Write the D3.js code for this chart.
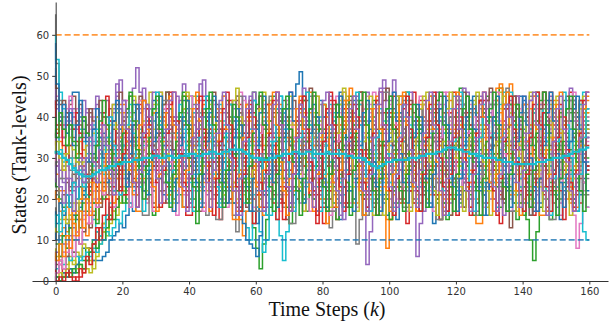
<!DOCTYPE html>
<html>
<head>
<meta charset="utf-8">
<script src="https://cdn.jsdelivr.net/npm/d3@7"></script>
<style>
  body { margin: 0; background: #fff; }
  .tick text { font-family: 'DejaVu Sans', sans-serif; font-size: 10px; fill: #333; }
  .tick line, .domain { stroke: #333; }
</style>
</head>
<body>
<svg id="chart" width="616" height="329"></svg>
<script>
// tank levels per run, one value per time step k = 0..160
const run0 = [40,44,40,38,41,44,46,46,40,37, 35,38,33,30,34,36,31,28,33,35,
  30,27,31,34,38,35,32,29,26,30, 33,36,39,35,31,28,25,29,32,27,
  24,28,31,35,33,30,26,22,25,29, 33,37,34,30,27,31,35,38,34,29,
  25,22,26,30,33,37,40,36,32,35, 38,42,45,48,51,44,39,35,31,28,
  32,36,33,29,26,30,34,37,33,28, 25,29,32,36,39,35,31,27,24,28,
  31,35,38,34,30,26,23,27,31,34, 37,40,36,32,29,33,30,26,29,33,
  36,33,29,25,28,32,35,39,36,31, 27,24,28,31,35,38,34,30,33,29,
  26,30,34,37,33,29,25,28,32,36, 39,35,31,27,30,34,37,33,29,32, 35]
const run1 = [12,10,11,13,12,15,17,16,19,21, 20,23,25,22,26,28,24,27,31,29,
  33,36,32,28,31,27,24,29,34,38, 41,37,33,30,26,22,27,31,35,32,
  28,25,30,36,40,43,39,34,31,27, 23,19,24,28,33,30,26,31,36,41,
  37,33,28,24,21,26,30,34,38,35, 31,27,32,36,33,28,25,21,18,23,
  28,33,37,42,38,34,30,26,31,35, 40,44,39,35,31,28,24,20,25,29,
  33,37,41,38,33,29,26,30,34,31, 27,24,20,23,28,32,37,41,45,40,
  36,32,28,25,29,33,30,26,22,27, 31,35,40,44,48,42,37,33,30,26,
  23,27,31,35,39,36,32,28,25,30, 34,38,42,39,35,31,27,24,28,32, 36]
const run2 = [2,1,0,2,1,3,2,4,6,5, 8,7,10,12,11,14,16,15,18,20,
  19,22,25,23,27,30,28,32,35,31, 28,25,29,33,37,34,30,27,23,26,
  30,34,38,42,39,35,31,28,24,21, 25,29,26,22,19,23,27,24,20,17,
  13,8,3,9,15,20,24,28,32,36, 40,37,33,29,26,30,34,38,35,31,
  27,24,28,32,36,40,43,39,35,32, 28,25,22,26,30,34,31,27,23,20,
  24,28,32,36,33,29,25,22,26,30, 34,38,42,45,41,37,33,29,26,30,
  27,23,19,22,26,30,34,38,35,31, 28,32,36,40,47,43,38,34,30,27,
  23,19,15,10,5,12,18,22,26,30, 33,37,41,38,34,30,26,29,33,37, 40]
const run3 = [30,28,31,27,25,22,24,26,23,21, 24,27,25,22,26,29,27,30,33,29,
  26,30,34,31,27,24,28,32,36,33, 29,26,22,19,23,27,31,35,39,42,
  38,34,30,27,31,35,32,28,25,29, 33,37,41,44,40,36,32,29,26,23,
  20,17,21,25,29,33,30,26,23,27, 31,35,39,36,32,28,24,21,25,29,
  33,30,26,22,18,15,19,23,27,31, 35,39,43,40,36,32,28,25,29,33,
  30,26,23,27,31,35,39,43,46,42, 38,34,30,27,23,20,24,28,32,36,
  33,29,26,30,34,38,42,39,35,31, 27,24,20,17,21,25,29,33,37,34,
  30,26,23,27,31,35,39,43,40,36, 32,28,25,29,33,30,26,22,19,24, 28]
const run4 = [45,43,40,37,41,39,42,38,35,39, 42,40,37,34,38,41,44,40,43,46,
  49,44,41,45,47,52,46,42,38,35, 31,34,38,35,31,27,24,28,32,36,
  39,35,31,28,32,36,33,29,25,22, 26,30,34,38,42,39,35,31,27,24,
  28,32,29,25,21,24,28,32,36,40, 37,33,29,26,30,34,38,42,45,41,
  37,33,29,26,22,19,23,27,31,35, 32,28,24,16,4,12,20,26,31,36,
  40,44,49,45,41,37,33,30,26,22, 26,30,34,38,35,31,28,24,27,31,
  35,39,43,40,36,32,28,25,29,33, 37,41,38,34,30,27,23,20,24,28,
  32,36,40,44,41,37,33,29,26,30, 34,38,35,31,27,24,28,32,36,39, 35]
const run5 = [20,22,19,21,24,23,26,25,28,27, 25,28,31,29,33,30,27,31,34,37,
  34,30,27,31,35,39,36,32,29,26, 30,34,38,41,37,33,30,27,23,26,
  30,34,31,27,24,28,32,36,40,43, 39,35,31,28,32,29,25,22,18,22,
  26,30,34,38,35,31,27,24,28,32, 36,40,44,40,36,32,29,25,22,26,
  30,34,38,35,31,28,32,36,40,37, 33,29,26,22,25,29,33,37,41,38,
  34,30,27,23,19,22,26,30,34,38, 42,39,35,31,27,24,28,32,36,33,
  29,26,22,25,29,33,37,41,44,40, 36,32,28,25,29,33,37,41,45,42,
  38,34,30,26,23,27,31,35,32,28, 24,21,25,29,33,37,41,38,34,30, 27]
const run6 = [50,45,41,43,40,37,40,42,39,36, 33,37,40,36,32,29,33,36,39,35,
  31,28,32,35,39,42,38,34,31,27, 24,28,32,36,33,29,26,30,34,38,
  41,37,33,30,26,23,27,31,35,39, 36,32,28,25,22,26,30,34,38,42,
  38,34,31,27,24,20,24,28,32,29, 25,22,26,30,34,38,41,37,33,29,
  26,30,34,38,42,45,41,37,33,30, 26,23,27,31,35,32,28,24,21,25,
  29,33,37,41,38,34,30,27,23,26, 30,34,38,42,39,35,31,28,24,21,
  25,29,33,37,34,30,26,23,27,31, 35,39,43,40,36,32,28,25,29,33,
  37,34,30,26,23,19,23,27,31,35, 39,36,32,28,24,20,16,8,14,22, 28]
const run7 = [65,53,44,40,36,33,30,33,36,32, 29,26,30,33,37,34,30,27,24,28,
  32,36,40,37,33,29,26,22,25,29, 33,37,34,30,26,23,20,24,28,32,
  36,40,43,39,35,31,28,24,21,25, 29,26,22,19,16,12,18,23,27,31,
  35,39,36,32,28,25,29,33,37,41, 38,34,30,27,23,26,30,34,38,35,
  31,27,24,28,32,36,40,44,40,36, 32,9,15,21,27,31,35,32,28,25,
  21,18,22,26,30,34,38,42,39,35, 31,28,24,27,31,35,39,36,32,28,
  25,21,25,29,33,37,41,45,42,38, 34,30,27,23,20,24,28,32,36,40,
  37,33,29,26,30,34,38,42,39,35, 31,28,24,21,25,29,33,37,34,30, 27]
const run8 = [8,6,5,7,4,6,5,3,4,2, 3,2,5,8,11,14,13,16,19,22,
  25,23,27,30,33,29,26,30,34,38, 35,31,28,24,21,25,29,33,37,40,
  44,40,36,32,29,25,22,26,30,34, 31,27,24,20,23,27,31,35,39,36,
  32,28,25,21,18,22,26,30,34,38, 42,38,34,31,27,24,28,32,36,40,
  37,33,29,26,22,18,22,26,30,34, 38,42,46,42,38,34,31,27,24,28,
  32,36,40,37,33,29,26,22,19,23, 27,31,35,39,43,39,35,31,28,24,
  21,25,29,33,37,34,30,26,23,27, 31,35,39,43,46,42,38,34,30,27,
  23,20,24,28,32,36,40,37,33,29, 26,22,19,23,27,31,35,39,43,40, 36]
const run9 = [60,54,46,42,38,35,38,41,37,34, 31,35,38,34,30,27,31,34,38,41,
  37,33,29,26,30,34,37,33,29,25, 22,26,30,34,38,42,39,35,31,27,
  24,28,32,36,33,29,26,22,26,30, 34,38,35,31,27,24,20,17,13,10,
  14,18,12,7,10,16,20,15,11,5, 12,18,23,27,31,35,39,36,32,28,
  25,29,33,37,41,38,34,30,27,23, 20,24,28,32,36,40,37,33,29,26,
  22,26,30,34,38,35,31,27,24,20, 24,28,32,36,40,44,40,36,32,29,
  25,22,26,30,34,38,35,31,27,24, 28,32,36,40,37,33,29,26,22,19,
  23,27,31,35,39,43,39,35,31,28, 24,21,25,29,33,37,34,30,26,12, 10]
const run10 = [0,1,0,2,1,3,2,4,6,8, 8,7,5,5,5,6,7,10,11,12,
  14,13,16,19,17,21,24,22,26,29, 27,31,34,30,27,24,28,32,35,31,
  28,25,29,33,37,40,36,32,29,26, 22,19,23,27,31,35,32,28,25,21,
  17,14,18,22,26,30,34,38,42,39, 35,31,28,25,29,33,37,34,30,26,
  23,27,31,35,39,43,46,42,38,34, 30,27,23,20,24,28,32,36,33,29,
  26,22,19,15,19,23,27,31,35,39, 36,32,28,25,21,25,29,33,37,41,
  38,34,30,27,23,20,24,28,32,36, 40,43,39,35,31,28,24,21,25,29,
  33,37,34,30,26,23,19,23,27,31, 35,39,42,38,34,30,27,31,35,32, 28]
const run11 = [35,37,34,31,33,30,28,31,34,32, 29,26,30,33,36,40,37,33,30,26,
  23,27,31,28,24,21,25,29,33,37, 41,44,40,36,32,29,25,22,26,30,
  34,38,35,31,27,24,28,32,36,40, 37,33,29,26,22,19,15,11,17,23,
  28,32,36,33,29,26,30,34,38,42, 39,35,31,28,24,21,25,29,33,37,
  34,30,26,23,27,31,35,39,43,40, 36,32,29,25,22,26,30,34,31,27,
  8,15,21,26,30,34,38,42,39,35, 31,28,24,21,25,29,33,37,41,44,
  40,36,32,29,25,22,26,30,34,38, 35,31,27,24,28,32,36,48,43,38,
  34,30,27,23,20,24,28,32,36,40, 37,33,29,26,22,19,23,27,31,35, 39]
const run12 = [25,23,20,18,21,19,17,20,23,21, 24,22,19,23,26,24,28,31,27,30,
  34,38,41,45,41,37,33,30,26,23, 27,31,35,39,36,32,28,25,21,18,
  22,26,30,34,38,42,39,35,31,28, 24,21,25,29,33,37,41,38,34,30,
  27,23,20,24,28,32,36,33,29,25, 22,18,22,26,30,34,38,42,45,41,
  37,33,30,26,23,27,31,35,39,36, 32,28,25,21,18,22,26,30,34,38,
  42,38,34,31,27,24,28,32,36,40, 37,33,29,26,22,19,15,19,23,27,
  31,35,39,43,40,36,32,28,25,21, 25,29,33,37,34,30,26,23,19,22,
  26,30,34,38,42,39,35,31,28,24, 21,25,29,33,37,41,45,41,37,33, 30]
const run13 = [3,2,4,1,3,2,1,0,1,3, 5,8,7,10,13,12,15,18,17,20,
  23,21,24,27,25,28,31,29,33,36, 32,28,25,29,33,37,40,36,32,29,
  25,22,18,22,26,30,34,38,35,31, 27,24,28,32,36,40,43,39,35,31,
  28,24,21,25,29,33,30,26,22,19, 23,27,31,35,39,36,32,28,25,21,
  18,14,18,22,26,30,34,38,42,39, 35,31,28,24,21,25,29,33,37,41,
  38,34,30,27,23,20,24,28,32,36, 40,43,39,35,31,28,24,21,17,21,
  25,29,33,37,41,38,34,30,26,23, 19,23,27,31,35,39,43,40,36,32,
  28,25,21,18,22,26,30,34,38,42, 39,35,31,27,24,20,17,21,25,29, 33]
const run14 = [5,7,6,9,8,11,13,12,15,17, 16,19,22,20,24,27,25,29,32,36,
  33,29,26,30,34,38,42,47,43,39, 35,31,28,24,28,32,36,40,44,48,
  44,40,36,32,28,25,21,25,29,33, 37,41,38,34,30,26,23,27,31,35,
  32,28,24,21,25,29,33,37,41,38, 34,30,26,23,19,23,27,31,35,39,
  43,40,36,32,28,25,21,18,22,26, 30,34,38,42,46,42,38,34,30,27,
  23,20,24,28,32,36,33,29,25,6, 14,21,27,31,35,39,43,40,36,32,
  28,25,21,25,29,33,37,41,45,41, 37,33,29,26,22,19,23,27,31,35,
  39,36,32,28,25,21,25,29,33,37, 41,38,34,30,26,23,27,31,35,39, 36]
const run15 = [42,44,41,38,40,43,45,41,38,35, 38,41,37,34,31,35,38,42,39,36,
  32,29,25,29,33,37,41,44,40,36, 33,29,26,30,34,38,35,31,28,24,
  21,25,29,33,37,41,45,42,38,34, 30,27,23,27,31,35,39,36,32,28,
  25,21,25,29,33,37,41,44,40,36, 32,29,25,22,26,30,34,38,35,31,
  27,24,20,24,28,32,36,40,44,41, 37,33,29,26,30,34,38,35,31,27,
  24,28,32,36,40,37,33,29,26,22, 19,23,27,31,35,39,36,32,28,25,
  29,33,37,41,45,41,37,33,29,26, 22,26,30,34,38,42,46,43,39,35,
  31,28,24,21,25,29,33,37,41,44, 40,36,32,29,25,22,26,30,34,38, 42]
const run16 = [28,31,35,38,42,45,41,38,42,39, 36,33,37,40,36,33,29,26,30,33,
  37,40,44,41,37,34,30,27,31,35, 39,42,46,42,38,35,31,28,24,21,
  25,29,33,37,34,30,27,23,20,24, 28,32,36,40,44,40,36,33,29,26,
  30,34,38,35,31,28,24,21,17,21, 25,29,33,37,41,45,41,37,34,30,
  27,23,20,24,28,32,36,33,29,26, 30,34,38,42,45,41,37,33,30,26,
  23,27,31,35,39,43,40,36,32,29, 25,22,26,30,34,38,42,46,42,38,
  34,31,27,24,20,24,28,32,36,40, 37,33,29,26,30,34,38,42,39,35,
  31,27,24,28,32,36,40,44,41,37, 33,30,26,23,27,31,35,39,42,38, 34]
const run17 = [18,16,14,17,15,13,16,19,17,20, 23,21,25,22,19,23,26,24,27,30,
  28,25,22,26,29,33,36,32,29,25, 22,18,22,26,30,34,31,27,24,28,
  32,36,40,37,33,29,26,30,34,38, 42,45,41,37,33,29,26,22,19,23,
  27,31,35,39,36,32,28,25,21,18, 22,26,30,34,38,42,39,35,31,27,
  24,20,17,13,17,21,25,29,33,37, 41,44,40,36,32,28,25,21,24,28,
  32,36,40,44,41,37,33,30,26,23, 27,31,35,32,28,24,21,17,21,25,
  29,33,37,41,38,34,30,26,23,19, 23,27,31,35,39,43,47,43,39,35,
  32,28,25,21,18,22,26,30,34,38, 42,38,34,30,27,23,20,24,28,32, 36]
const run18 = [1,0,2,1,3,5,4,7,6,9, 8,5,3,6,9,12,11,14,17,16,
  19,22,20,24,27,31,28,32,35,39, 43,40,36,32,29,25,22,26,30,34,
  38,42,45,41,37,33,30,26,23,19, 23,27,31,35,39,36,32,28,25,21,
  25,29,33,37,41,44,40,36,32,29, 25,22,18,22,26,30,34,38,35,31,
  28,24,21,25,29,33,37,41,45,42, 38,34,30,27,23,20,16,20,24,28,
  32,36,40,43,39,35,31,28,24,21, 25,29,33,37,34,30,26,23,19,16,
  20,24,28,32,36,40,44,41,37,33, 29,26,22,25,29,33,37,41,38,34,
  30,27,23,20,24,28,32,36,40,43, 39,35,31,28,24,21,25,29,33,37, 41]
const run19 = [4,3,5,4,6,5,7,6,5,6, 7,6,8,7,9,10,12,11,13,15,
  14,17,20,18,22,25,23,27,30,28, 32,35,31,28,24,28,32,36,40,37,
  33,29,26,22,19,23,27,31,35,39, 43,39,35,32,28,25,21,25,29,33,
  37,34,30,26,23,27,31,35,39,42, 38,34,31,27,24,20,24,28,32,36,
  40,37,33,29,26,22,19,23,27,31, 35,39,43,39,35,32,28,24,21,25,
  29,33,37,41,38,34,30,26,23,19, 23,27,31,35,39,43,40,36,32,28,
  24,21,25,29,33,37,34,30,26,23, 27,31,35,39,43,46,42,38,34,30,
  26,23,19,16,20,24,28,32,36,40, 37,33,29,25,22,26,30,34,38,42, 39]
const run20 = [10,12,9,11,14,13,16,15,18,21, 19,23,26,24,28,31,29,26,22,25,
  29,33,30,26,23,27,31,35,39,36, 32,28,25,21,24,28,32,36,40,44,
  41,37,33,29,26,22,25,29,33,37, 34,30,26,23,19,16,20,14,10,9,
  8,6,11,17,22,26,30,34,38,41, 37,33,29,26,22,25,29,33,37,40,
  44,40,36,32,29,25,21,18,22,26, 30,34,38,35,31,27,24,20,17,21,
  25,29,33,37,41,45,41,37,33,30, 26,23,19,23,27,31,35,39,36,32,
  28,25,21,18,22,26,30,34,38,42, 39,35,31,27,24,20,24,28,32,36,
  40,44,40,36,32,29,25,22,26,30, 34,38,35,31,27,24,20,17,21,25, 29]
const run21 = [22,20,17,15,18,16,14,12,15,13, 11,14,17,15,19,22,20,24,27,25,
  29,32,36,33,29,26,30,34,38,42, 39,35,31,28,24,21,17,21,25,29,
  33,37,41,44,40,36,32,29,25,22, 26,30,34,38,35,31,27,24,20,24,
  28,32,36,40,43,39,35,31,28,24, 21,17,21,25,29,33,37,41,38,34,
  30,27,23,20,24,28,32,36,40,43, 39,35,31,28,24,21,25,29,33,37,
  34,30,26,23,19,23,27,31,35,39, 43,40,36,32,28,25,21,18,22,26,
  30,34,38,35,31,27,24,20,24,28, 32,36,40,44,41,37,33,29,26,22,
  19,23,27,31,35,39,43,46,42,38, 34,30,27,23,20,24,28,32,36,40, 44]
const run22 = [0,1,0,1,2,1,3,2,4,3, 5,7,9,8,11,10,13,16,15,18,
  21,19,23,26,24,28,31,34,30,27, 31,35,39,43,46,42,38,34,30,27,
  23,20,24,28,32,36,40,37,33,29, 26,22,19,23,27,31,35,39,43,40,
  36,32,28,25,21,18,22,26,30,34, 38,35,31,27,24,20,17,21,25,29,
  33,37,41,38,34,30,26,23,19,16, 20,24,28,32,36,40,44,41,37,33,
  29,26,22,19,23,27,31,35,39,42, 38,34,30,27,23,20,24,28,32,36,
  40,44,47,43,39,35,31,28,24,21, 25,29,33,37,34,30,26,22,19,15,
  19,23,27,31,35,39,42,38,34,30, 27,23,20,24,28,32,36,40,44,41, 37]
const run23 = [33,36,39,35,38,41,37,34,31,28, 25,22,26,23,20,24,21,25,28,32,
  35,39,42,38,34,31,27,24,20,24, 28,32,36,40,44,40,36,33,29,26,
  22,19,23,27,31,35,39,42,38,34, 31,27,23,20,24,28,32,36,40,44,
  41,37,33,29,26,22,19,15,19,23, 27,31,35,39,43,40,36,32,28,25,
  21,18,22,26,30,34,38,42,39,35, 31,28,24,20,17,21,25,29,33,37,
  41,45,41,37,33,30,26,22,19,23, 27,31,35,39,42,38,34,31,27,23,
  20,16,20,24,28,32,36,40,44,41, 37,33,29,26,22,19,23,27,31,35,
  39,43,40,36,32,28,25,21,18,22, 26,30,34,38,42,46,42,38,34,31, 27]
const run24 = [48,42,38,35,39,42,40,37,41,44, 41,38,42,45,41,38,35,39,42,45,
  42,38,35,31,34,38,41,44,40,37, 33,30,34,37,41,44,40,37,33,29,
  26,30,34,41,48,45,41,37,33,30, 26,23,27,31,35,38,42,45,41,37,
  33,30,26,22,19,23,27,31,35,39, 43,46,42,38,34,31,27,24,20,17,
  21,25,29,33,37,41,45,41,37,33, 30,26,23,27,31,35,39,43,47,49,
  44,40,36,32,29,25,22,18,22,26, 30,34,38,41,37,33,30,26,23,27,
  31,35,39,43,46,42,38,34,31,27, 24,20,24,28,32,36,40,44,40,36,
  32,29,25,22,26,30,34,38,42,45, 41,37,33,30,26,23,19,23,27,31, 35]
const run25 = [6,4,5,3,6,8,7,10,9,12, 14,13,16,19,18,21,24,22,26,29,
  27,31,34,30,27,23,26,30,34,37, 33,29,26,22,19,23,27,31,35,38,
  34,31,27,24,28,32,36,40,44,41, 37,33,29,26,22,18,22,26,30,34,
  38,42,45,41,37,33,29,26,22,19, 15,19,23,27,31,35,39,42,38,34,
  30,27,23,20,24,28,32,36,40,44, 41,37,33,29,26,22,18,22,26,30,
  34,38,42,39,35,31,27,24,20,17, 21,25,29,33,37,41,45,41,37,33,
  29,26,22,18,22,26,30,34,38,42, 39,35,31,27,24,20,17,13,17,21,
  25,29,33,37,41,38,34,30,27,23, 19,23,27,31,35,39,43,40,36,32, 28]
const run26 = [3,5,4,7,9,8,11,10,13,16, 14,17,20,18,22,25,23,27,24,21,
  25,28,32,36,33,29,26,22,19,23, 27,31,35,39,43,39,35,32,28,25,
  21,18,22,26,30,34,38,35,31,27, 24,20,24,28,32,36,40,44,40,36,
  32,29,25,22,18,22,26,30,34,38, 42,39,35,31,28,24,20,17,21,25,
  29,33,37,41,38,34,30,26,23,19, 23,27,31,35,39,43,46,42,38,34,
  31,27,23,20,24,28,32,36,40,37, 33,29,26,22,18,22,26,30,34,38,
  42,39,35,31,27,24,20,24,28,32, 36,40,44,40,36,33,29,25,22,18,
  22,26,30,34,38,42,39,35,31,27, 24,20,16,20,24,28,32,36,40,44, 40]
const run27 = [26,29,25,28,31,27,24,27,30,26, 23,27,24,28,31,35,32,28,25,29,
  33,30,26,23,27,31,35,38,42,39, 35,31,28,24,21,25,29,33,37,41,
  38,34,30,27,23,19,16,20,24,28, 32,36,40,43,39,35,31,28,24,21,
  25,29,33,37,41,45,42,38,34,30, 27,23,19,23,27,31,35,39,36,32,
  28,25,21,17,21,25,29,33,37,41, 45,42,38,34,30,27,23,19,16,20,
  24,28,32,36,40,44,40,36,32,29, 25,22,26,30,34,38,42,39,35,31,
  27,23,20,24,28,32,36,40,44,41, 37,33,30,26,23,19,23,27,31,35,
  39,43,39,35,31,28,24,20,17,21, 25,29,33,37,41,44,40,36,32,29, 25]
const run28 = [14,12,15,17,14,16,19,17,20,23, 21,24,27,25,28,32,35,31,34,38,
  41,37,34,30,27,31,35,39,43,46, 42,38,34,31,27,24,20,24,28,32,
  36,33,29,25,22,26,30,34,38,42, 39,35,31,27,24,20,17,21,25,29,
  33,37,41,44,40,36,32,29,25,22, 26,30,34,38,42,39,35,31,27,24,
  20,24,28,32,36,40,44,47,43,39, 35,31,28,24,20,17,21,25,29,33,
  37,41,38,34,30,26,23,27,31,35, 39,43,46,42,38,34,30,27,23,20,
  24,28,32,36,40,37,33,29,26,22, 18,22,26,30,34,38,42,45,41,37,
  33,29,26,22,19,23,27,31,35,39, 43,40,36,32,28,25,21,25,29,33, 37]
const run29 = [38,35,32,29,33,30,27,30,27,24, 21,18,15,12,11,13,16,19,22,26,
  29,33,37,34,30,27,23,27,31,35, 39,43,39,35,32,28,24,21,25,29,
  33,37,41,45,41,37,33,30,26,23, 19,23,27,31,35,39,36,32,28,25,
  21,18,22,26,30,34,38,42,45,41, 37,33,30,26,22,19,23,27,31,35,
  39,43,40,36,32,28,25,21,18,22, 26,30,34,38,42,39,35,31,27,24,
  20,24,28,32,36,40,44,40,36,33, 29,25,22,18,22,26,30,34,38,42,
  45,41,37,34,30,26,23,19,23,27, 31,35,39,36,32,28,24,21,17,21,
  25,29,33,37,41,45,42,38,34,30, 27,23,19,23,27,31,35,39,43,46, 42]
const run30 = [17,14,19,16,21,18,24,20,26,22, 29,25,31,36,28,33,40,35,29,42,
  38,31,25,34,43,37,28,22,30,39, 44,36,27,33,41,32,24,19,28,35,
  42,45,38,30,23,31,40,44,34,26, 20,29,38,43,33,25,18,27,36,41,
  44,37,28,21,16,25,33,42,39,30, 24,19,26,35,43,45,38,29,22,17,
  25,34,41,36,27,20,15,23,32,40, 44,38,31,24,30,39,43,35,26,19,
  16,22,31,40,45,39,30,23,28,37, 42,34,25,19,14,21,30,38,44,40,
  32,24,18,26,35,42,45,37,28,21, 16,24,33,41,38,29,22,27,36,43,
  45,39,30,22,17,25,34,41,44,36, 27,20,15,22,31,39,44,40,31,24, 18]
const run31 = [26,26,22,22,18,18,15,20,20,24, 24,29,29,33,27,27,38,38,31,31,
  43,43,36,28,28,17,17,25,34,34, 41,41,30,30,21,21,29,39,39,45,
  45,33,33,26,18,18,28,37,37,42, 31,31,23,23,15,15,27,27,40,40,
  34,24,24,16,16,29,29,43,43,35, 35,22,22,30,41,41,46,46,33,33,
  20,20,14,26,26,38,38,44,30,30, 19,19,28,28,42,42,36,36,23,23,
  15,15,31,31,45,45,38,27,27,17, 17,33,33,42,42,29,29,20,20,37,
  37,45,45,32,32,24,24,14,14,28, 28,40,40,47,47,35,35,21,21,30,
  30,43,43,38,26,26,16,16,32,32, 44,44,36,36,25,25,18,18,33,41, 41]
const run32 = [9,9,6,11,8,13,10,16,13,19, 17,22,19,14,24,20,28,23,31,26,
  35,30,19,27,38,33,44,36,27,21, 16,25,34,42,38,29,23,31,40,46,
  37,28,20,14,23,32,41,36,27,19, 26,35,44,40,31,22,17,24,33,42,
  46,38,29,22,30,39,45,41,32,25, 18,14,21,30,38,44,36,27,20,28,
  37,43,35,26,19,15,24,33,41,45, 38,29,21,16,22,31,40,44,36,28,
  20,15,23,32,39,43,46,37,28,22, 17,25,34,42,45,36,27,19,15,24,
  33,40,44,37,28,21,16,23,32,41, 45,40,31,23,18,26,35,43,38,29,
  21,16,24,33,42,46,37,28,20,15, 23,32,40,44,36,27,19,25,34,42, 38]
const run33 = [44,38,38,33,29,33,37,41,36,30, 26,21,29,29,35,41,45,39,39,32,
  27,21,21,30,38,43,43,36,28,24, 18,27,35,35,42,46,39,31,31,22,
  16,16,25,34,40,44,44,37,29,21, 15,24,32,32,40,45,38,30,22,22,
  14,21,29,38,43,43,35,27,20,15, 23,31,31,39,44,37,29,29,21,14,
  22,30,38,44,44,36,27,19,19,26, 34,42,46,38,30,30,22,16,25,33,
  41,41,45,35,27,19,14,22,31,39, 44,44,36,28,21,21,15,24,33,41,
  46,38,30,30,22,16,24,32,40,44, 44,35,27,19,14,23,31,31,39,45,
  37,29,21,21,16,25,33,41,41,46, 38,30,22,15,23,31,31,39,44,36, 28]
const run34 = [36,31,27,24,28,25,22,26,30,27, 33,38,34,43,37,31,25,35,41,48,
  42,35,29,39,44,37,30,24,33,42, 46,40,33,26,20,29,38,45,39,32,
  25,19,28,37,44,49,40,31,24,18, 27,36,43,38,29,22,16,25,34,42,
  46,39,31,24,18,27,36,44,41,32, 25,19,28,37,43,47,39,30,23,17,
  26,35,42,45,37,28,21,15,24,33, 41,45,38,30,22,17,26,35,43,47,
  39,31,24,18,27,36,43,46,38,30, 23,17,26,35,42,46,39,31,24,19,
  28,37,44,47,39,30,23,17,26,35, 42,46,38,29,22,16,25,34,41,45,
  38,30,23,18,27,36,43,46,39,31, 24,18,27,36,44,47,39,30,22,29, 37]
const run35 = [52,47,43,44,41,38,35,39,43,40, 36,42,39,33,44,40,34,28,37,43,
  46,39,32,26,35,42,45,38,31,25, 19,28,36,43,46,40,32,25,30,39,
  44,37,29,23,17,26,35,42,46,40, 32,25,19,28,37,44,41,33,26,20,
  29,38,45,42,34,27,21,30,39,44, 40,33,26,20,29,38,44,47,40,33,
  26,19,28,36,43,40,32,25,18,27, 36,43,46,39,32,25,19,28,37,44,
  47,40,33,26,20,29,38,44,41,34, 27,21,30,38,45,42,35,28,22,16,
  25,34,42,46,40,33,26,19,28,37, 44,47,40,33,26,20,29,38,45,42,
  35,28,22,16,25,34,42,46,40,33, 26,20,29,38,45,42,35,28,22,30, 38]
const run36 = [0,2,5,3,7,10,6,12,9,15, 19,14,22,18,26,21,30,24,18,27,
  36,31,24,18,28,37,44,38,30,23, 17,26,35,42,37,29,22,16,25,34,
  41,45,38,30,23,17,26,35,43,39, 31,24,18,27,36,43,46,39,31,24,
  18,27,36,43,40,32,25,19,28,37, 44,46,38,30,23,17,26,35,42,45,
  38,30,23,16,25,34,42,46,39,31, 24,18,27,36,43,40,32,25,18,27,
  36,43,46,38,30,23,17,26,35,42, 45,38,30,23,17,26,35,43,46,39,
  31,24,18,27,36,43,40,32,25,18, 27,36,43,46,39,31,24,17,26,35,
  42,45,38,30,23,17,26,35,43,40, 32,25,19,28,37,44,46,39,31,24, 18]
const run37 = [21,21,25,25,19,19,23,29,29,24, 24,30,30,35,35,27,27,21,21,33,
  33,40,40,31,31,24,24,16,16,29, 29,38,38,44,44,36,36,26,26,18,
  18,30,30,41,41,34,34,23,23,15, 15,27,27,39,39,45,45,33,33,24,
  24,17,17,31,31,42,42,36,36,22, 22,14,14,28,28,40,40,45,45,32,
  32,23,23,17,17,30,30,43,43,35, 35,25,25,16,16,29,29,41,41,46,
  46,34,34,24,24,18,18,32,32,42, 42,36,36,27,27,15,15,28,28,40,
  40,44,44,33,33,22,22,16,16,31, 31,43,43,37,37,25,25,17,17,30,
  30,41,41,45,45,34,34,23,23,15, 15,29,29,39,39,44,44,32,32,21, 21]
const run38 = [31,34,30,27,31,35,32,29,25,29, 33,30,36,40,34,28,32,38,43,37,
  31,26,33,40,45,39,32,27,22,30, 37,43,46,38,31,25,19,28,36,42,
  46,39,32,25,20,28,37,43,40,33, 27,21,30,38,44,47,40,32,25,19,
  27,35,42,46,39,31,24,18,26,35, 42,45,38,30,23,17,25,34,41,45,
  39,31,24,18,27,36,43,46,38,30, 23,17,25,34,42,45,37,29,22,16,
  25,34,41,45,38,30,23,17,26,35, 42,45,37,29,22,16,25,34,42,46,
  38,30,23,17,26,35,43,46,38,29, 22,16,25,34,42,45,37,29,22,17,
  26,35,42,46,38,30,23,17,26,35, 42,45,37,29,22,16,25,34,42,45, 37]
const run39 = [13,16,12,17,21,18,24,20,27,23, 30,34,28,37,32,26,35,40,33,27,
  21,30,38,43,36,29,23,17,26,35, 42,46,38,31,24,19,27,36,43,39,
  31,24,17,26,35,42,45,38,30,23, 18,27,36,43,40,32,25,19,28,37,
  44,38,30,22,16,25,34,42,45,37, 29,22,17,26,35,42,46,38,30,23,
  17,26,35,43,40,32,24,18,27,36, 43,46,38,30,23,17,26,35,42,39,
  31,24,18,27,36,43,46,38,30,23, 17,26,35,42,45,37,29,22,16,25,
  34,42,46,38,30,23,17,26,35,43, 40,32,24,18,27,36,43,46,38,30,
  23,17,26,35,42,45,37,29,22,16, 25,34,42,46,38,30,23,17,26,35, 42]
const run40 = [58,48,39,43,36,41,33,38,44,39, 34,29,37,42,35,30,24,32,39,44,
  37,30,23,31,38,43,35,28,21,27, 34,41,45,36,29,22,17,25,33,40,
  44,38,30,24,18,26,34,41,45,39, 31,24,19,27,35,42,38,30,23,17,
  25,33,41,45,38,31,24,18,27,35, 42,46,39,31,25,19,27,36,43,40,
  32,25,18,26,34,41,45,37,30,22, 17,25,33,41,44,37,29,23,17,26,
  34,42,46,39,31,24,19,27,35,43, 40,32,25,18,26,34,42,45,38,30,
  23,17,25,33,40,44,37,29,22,16, 24,32,40,45,38,30,23,18,26,34,
  41,45,38,30,23,17,25,33,41,46, 39,31,24,18,26,34,42,45,37,29, 22]
const run41 = [7,5,9,6,11,8,14,11,17,13, 20,16,24,19,27,22,31,25,19,28,
  35,41,34,27,21,30,38,44,37,29, 23,17,26,34,41,45,38,30,23,18,
  27,35,42,46,39,31,24,17,25,34, 41,45,37,29,22,17,26,35,43,39,
  31,23,18,27,36,43,46,38,29,22, 16,25,34,42,45,37,29,22,17,26,
  35,43,40,32,24,18,27,36,44,47, 39,30,22,16,25,34,42,45,37,29,
  22,17,26,35,43,46,38,30,23,17, 26,35,42,45,37,29,22,16,25,34,
  42,46,38,30,23,18,27,36,43,40, 32,24,17,26,35,43,46,38,29,22,
  16,25,34,42,45,37,29,22,17,26, 35,43,46,38,30,23,17,26,35,42, 45]
const run42 = [40,35,41,37,33,38,34,30,35,40, 36,31,26,33,39,44,38,32,27,22,
  29,36,42,46,39,32,26,20,28,35, 42,45,37,30,24,18,26,34,41,45,
  38,30,23,17,26,34,42,46,38,30, 24,18,27,36,43,40,32,25,19,28,
  36,43,46,38,30,23,17,26,35,42, 45,37,29,22,16,25,34,42,46,38,
  30,23,17,26,35,43,40,32,24,18, 27,36,44,46,38,30,22,16,25,34,
  42,45,37,29,22,17,26,35,43,40, 32,24,18,27,36,44,46,38,30,23,
  17,26,35,42,45,37,29,22,16,25, 34,42,46,38,30,23,17,26,35,43,
  40,32,24,18,27,36,44,46,38,30, 22,16,25,34,42,45,37,29,22,17, 26]
const run43 = [0,0,1,0,2,1,0,1,3,2, 6,4,9,13,10,16,20,15,23,28,
  22,31,37,30,24,18,27,35,42,38, 31,24,18,27,36,43,46,39,31,24,
  18,26,35,42,45,37,29,22,16,25, 34,42,46,38,30,23,17,26,35,43,
  40,32,24,18,27,36,44,46,38,30, 23,17,26,35,42,45,37,29,22,16,
  25,34,42,46,38,30,23,17,26,35, 43,40,32,24,18,27,36,44,46,38,
  30,22,16,25,34,42,45,37,29,22, 17,26,35,43,46,38,30,23,17,26,
  35,43,40,32,24,18,27,36,44,46, 38,30,22,16,25,34,42,45,37,29,
  22,17,26,35,43,46,38,30,23,17, 26,35,43,40,32,24,18,27,36,44, 46]
const run44 = [24,28,23,19,25,21,17,23,28,24, 30,35,29,24,32,38,33,27,21,30,
  38,44,37,30,24,18,27,36,43,40, 32,25,19,28,37,44,46,38,30,23,
  17,26,35,43,40,32,24,18,27,36, 44,46,38,30,22,16,25,34,42,45,
  37,29,22,17,26,35,43,46,38,30, 23,17,26,35,43,40,32,24,18,27,
  36,44,46,38,30,22,16,25,34,42, 45,37,29,22,17,26,35,43,46,38,
  30,23,17,26,35,43,40,32,24,18, 27,36,44,46,38,30,22,16,25,34,
  42,45,37,29,22,17,26,35,43,46, 38,30,23,17,26,35,43,40,32,24,
  18,27,36,44,46,38,30,22,16,25, 34,42,45,37,29,22,17,26,35,43, 46]

const runs = [run0, run1, run2, run3, run4, run5, run6, run7, run8, run9,
  run10, run11, run12, run13, run14, run15, run16, run17, run18, run19,
  run20, run21, run22, run23, run24, run25, run26, run27, run28, run29,
  run30, run31, run32, run33, run34, run35, run36, run37, run38, run39,
  run40, run41, run42, run43, run44]

// average level over all runs (thick cyan line)
const meanLevel = [31,31.5,31,30,29.5,28.5,27.5,26.5,26,25.5, 25.5,25.5,26,26.5,27,27,27.5,28,28,28.5,
  28.5,29,29,29,29.5,29.5,29.5,30,30,30, 30.5,30.5,30,30,30.5,30.5,30,30,30.5,30.5,
  30.5,31,31,30.5,30.5,31,31,31.5,31.5,31, 31,31.5,31.5,32,32,32,32,31.5,31,30.5,
  30,30,29.5,29.5,29.5,30,30,30.5,30.5,31, 31,31,31.5,31.5,31,31,31.5,31.5,31,31,
  31,31,31.5,31,31,31,31,31,30.5,30.5, 30,30,30,29.5,29,28.5,28,27.5,28,28.5,
  29,29,29.5,29.5,29.5,29.5,29.5,30,30,30, 30.5,30.5,31,31,31,31.5,31.5,32,32.5,32.5,
  32.5,32,32,31.5,31.5,31,31,30.5,30.5,30, 30,30,30,29.5,29.5,29,29,29,28.5,28.5,
  28.5,28.5,28.5,28.5,28.5,29,29,29,29.5,29.5, 30,30,30,30.5,30.5,31,31.5,31.5,32,32, 32.5]

const upperLimit = 60
const lowerLimit = 10
const horizon = 160
const xTicks = [0, 20, 40, 60, 80, 100, 120, 140, 160]
const yTicks = [0, 10, 20, 30, 40, 50, 60]

const svg = d3.select('#chart')
const x = d3.scaleLinear().domain([-7.1, 165.6]).range([32, 608])
const y = d3.scaleLinear().domain([0, 68]).range([281, 2])
const colors = d3.schemeCategory10

const stepLine = d3.line()
  .x((d, i) => x(i))
  .y(d => y(d))
  .curve(d3.curveStepBefore)

const gRuns = svg.append('g')
gRuns.selectAll('path.run').data(runs).enter().append('path')
  .attr('class', 'run')
  .attr('d', stepLine)
  .attr('fill', 'none')
  .attr('stroke', (d, i) => colors[i % 10])
  .attr('stroke-width', 1.5)

svg.append('path')
  .attr('d', stepLine(meanLevel))
  .attr('fill', 'none')
  .attr('stroke', '#17becf')
  .attr('stroke-width', 2.2)

// constraint lines
const limits = [
  { v: upperLimit, c: '#ff7f0e' },
  { v: lowerLimit, c: '#1f77b4' },
]
svg.selectAll('line.limit').data(limits).enter().append('line')
  .attr('class', 'limit')
  .attr('x1', x(0)).attr('x2', x(horizon))
  .attr('y1', d => y(d.v)).attr('y2', d => y(d.v))
  .attr('stroke', d => d.c)
  .attr('stroke-opacity', 0.8)
  .attr('stroke-width', 1.8)
  .attr('stroke-dasharray', '6,3')

// axes
svg.append('g')
  .attr('transform', `translate(0,${y(0)})`)
  .call(d3.axisBottom(x).tickValues(xTicks).tickSize(3.5).tickSizeOuter(0).tickPadding(3))
svg.append('g')
  .attr('transform', `translate(${x(0)},0)`)
  .call(d3.axisLeft(y).tickValues(yTicks).tickSize(3.5).tickSizeOuter(0).tickPadding(3))

svg.append('text')
  .attr('x', 327).attr('y', 316)
  .attr('text-anchor', 'middle')
  .attr('font-family', "'Liberation Serif', serif")
  .attr('font-size', 20)
  .attr('fill', '#111')
  .html('Time Steps (<tspan font-style="italic">k</tspan>)')

svg.append('text')
  .attr('transform', 'translate(26,155) rotate(-90)')
  .attr('text-anchor', 'middle')
  .attr('font-family', "'Liberation Serif', serif")
  .attr('font-size', 20)
  .attr('fill', '#111')
  .text('States (Tank-levels)')
</script>
</body>
</html>
